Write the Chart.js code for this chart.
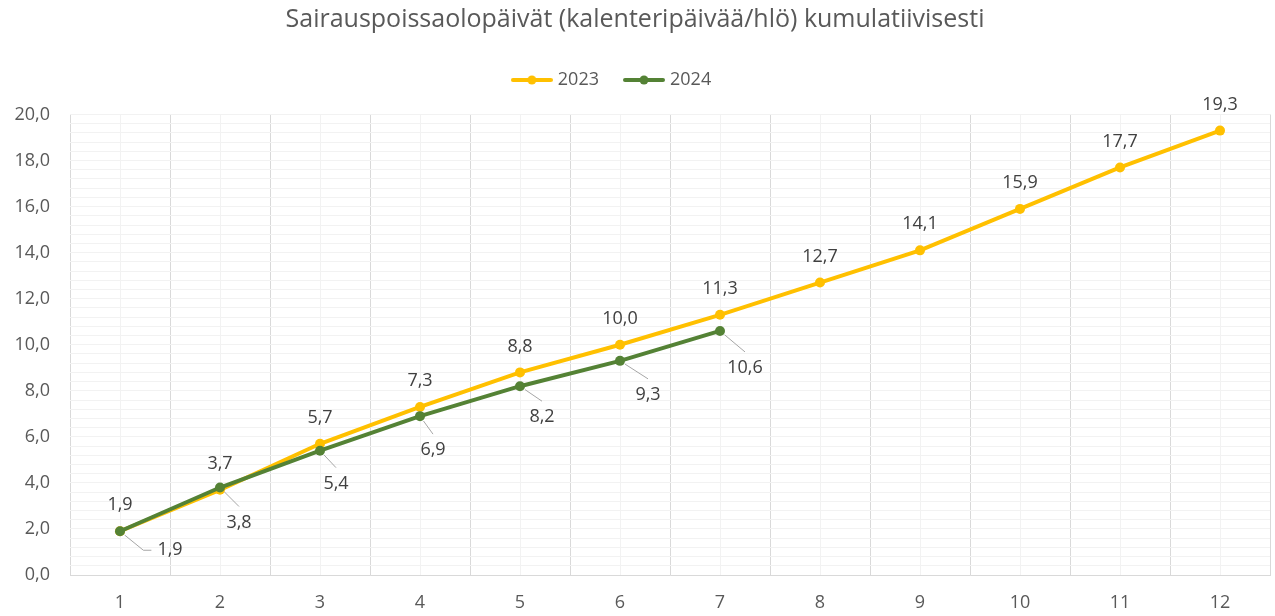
<!DOCTYPE html>
<html>
<head>
<meta charset="utf-8">
<script src="https://cdn.jsdelivr.net/npm/chart.js@4.4.1/dist/chart.umd.min.js"></script>
<style>
    html, body { margin: 0; padding: 0; background: #fff; }
</style>
</head>
<body>
<canvas id="chart" width="1275" height="616"></canvas>
<script>
// --- data ---
const months = ['1', '2', '3', '4', '5', '6', '7', '8', '9', '10', '11', '12'];
const values2023 = [1.9, 3.7, 5.7, 7.3, 8.8, 10.0, 11.3, 12.7, 14.1, 15.9, 17.7, 19.3];
const values2024 = [1.9, 3.8, 5.4, 6.9, 8.2, 9.3, 10.6];
const yMin = 0;
const yMax = 20;
const yStep = 2;
const yMinorStep = 0.4;

const fmt = v => Number(v).toFixed(1).replace('.', ',');

// label placement (pixels relative to the point)
const labelOffsets = [
    [[0, -26]],
    [[50, 19], [19, 35], [16, 33], [13, 34], [22, 31], [28, 34], [25, 37]]
];

Chart.defaults.font.family = '"Open Sans", sans-serif';
Chart.defaults.color = '#595959';

function legendIcon(color) {
    const c = document.createElement('canvas');
    c.width = 42;
    c.height = 12;
    const g = c.getContext('2d');
    g.strokeStyle = color;
    g.lineWidth = 4;
    g.lineCap = 'round';
    g.beginPath();
    g.moveTo(2, 6);
    g.lineTo(40, 6);
    g.stroke();
    g.fillStyle = color;
    g.beginPath();
    g.arc(21, 6, 4.5, 0, Math.PI * 2);
    g.fill();
    return c;
}

// data labels + leader lines
const pointLabels = {
    id: 'pointLabels',
    afterLayout(chart, args, opts) {
        // legend sits a bit left of the centre in the original
        if (chart.legend) {
            chart.legend.left += opts.legendShift;
            chart.legend.right += opts.legendShift;
        }
    },
    afterDatasetsDraw(chart, args, opts) {
        const ctx = chart.ctx;
        ctx.save();
        ctx.font = '18px "Open Sans", sans-serif';
        ctx.textAlign = 'center';
        ctx.textBaseline = 'middle';
        chart.data.datasets.forEach((ds, i) => {
            const meta = chart.getDatasetMeta(i);
            const offs = opts.offsets[i];
            meta.data.forEach((pt, j) => {
                const txt = fmt(ds.data[j]);
                const o = offs[j] || offs[offs.length - 1];
                const lx = pt.x + o[0];
                const ly = pt.y + o[1];
                if (opts.leaders[i]) {
                    const w = ctx.measureText(txt).width;
                    ctx.strokeStyle = opts.leaderColor;
                    ctx.lineWidth = 1;
                    ctx.beginPath();
                    if (Math.abs(o[0]) > Math.abs(o[1])) {
                        const ex = lx - w / 2 - 6;
                        const bx = ex - 8;
                        const ang = Math.atan2(ly - pt.y, bx - pt.x);
                        ctx.moveTo(pt.x + Math.cos(ang) * 6, pt.y + Math.sin(ang) * 6);
                        ctx.lineTo(bx, ly);
                        ctx.lineTo(ex, ly);
                    } else {
                        const ey = ly - 16;
                        const ang = Math.atan2(ey - pt.y, lx - pt.x);
                        ctx.moveTo(pt.x + Math.cos(ang) * 6, pt.y + Math.sin(ang) * 6);
                        ctx.lineTo(lx, ey);
                    }
                    ctx.stroke();
                }
                ctx.fillStyle = opts.color;
                ctx.fillText(txt, lx, ly);
            });
        });
        ctx.restore();
    }
};

const ctx = document.getElementById('chart').getContext('2d');
new Chart(ctx, {
    type: 'line',
    data: {
        labels: months,
        datasets: [{
            label: '2023',
            data: values2023,
            borderColor: '#FFC000',
            backgroundColor: '#FFC000',
            borderWidth: 4,
            pointRadius: 5,
            pointBorderWidth: 0,
            tension: 0,
            order: 1
        }, {
            label: '2024',
            data: values2024,
            borderColor: '#548235',
            backgroundColor: '#548235',
            borderWidth: 4,
            pointRadius: 5,
            pointBorderWidth: 0,
            tension: 0,
            order: 0
        }]
    },
    options: {
        responsive: false,
        animation: false,
        events: [],
        layout: { padding: { left: 0, right: 5, top: 0, bottom: 0 } },
        plugins: {
            title: {
                display: true,
                text: 'Sairauspoissaolopäivät (kalenteripäivää/hlö) kumulatiivisesti',
                color: '#595959',
                font: { size: 25, weight: 'normal' },
                padding: { top: 5, bottom: 8 }
            },
            legend: {
                display: true,
                position: 'top',
                labels: {
                    usePointStyle: true,
                    pointStyleWidth: 34,
                    padding: 28,
                    color: '#595959',
                    font: { size: 18 },
                    generateLabels: chart => chart.data.datasets.map((ds, i) => ({
                        text: ds.label,
                        pointStyle: legendIcon(ds.borderColor),
                        fillStyle: ds.borderColor,
                        strokeStyle: ds.borderColor,
                        fontColor: '#595959',
                        lineWidth: 0,
                        hidden: false,
                        datasetIndex: i
                    }))
                }
            },
            tooltip: { enabled: false },
            pointLabels: {
                offsets: labelOffsets,
                leaders: [false, true],
                color: '#404040',
                leaderColor: '#a6a6a6',
                legendShift: -22
            }
        },
        scales: {
            x: {
                type: 'category',
                position: 'bottom',
                offset: true,
                grid: { offset: true, color: '#d9d9d9', drawTicks: false },
                border: { color: '#d9d9d9' },
                ticks: { padding: 17, color: '#595959', font: { size: 18 } },
                afterFit: s => { s.height = 41; }
            },
            xMinor: {
                type: 'category',
                position: 'top',
                offset: true,
                z: -1,
                grid: { offset: false, color: '#f2f2f2', drawTicks: false },
                border: { display: false },
                ticks: { display: false },
                afterFit: s => { s.height = 15.5; }
            },
            y: {
                type: 'linear',
                position: 'left',
                min: yMin,
                max: yMax,
                grid: { color: '#d9d9d9', drawTicks: false },
                border: { display: false },
                ticks: {
                    stepSize: yStep,
                    padding: 20,
                    color: '#595959',
                    font: { size: 18 },
                    callback: v => fmt(v)
                },
                afterFit: s => { s.width = 70; }
            },
            yMinor: {
                type: 'linear',
                position: 'right',
                min: yMin,
                max: yMax,
                z: -1,
                grid: { color: '#f2f2f2', drawTicks: false },
                border: { display: false },
                ticks: { stepSize: yMinorStep, display: false },
                afterFit: s => { s.width = 0; }
            }
        }
    },
    plugins: [pointLabels]
});
</script>
</body>
</html>
